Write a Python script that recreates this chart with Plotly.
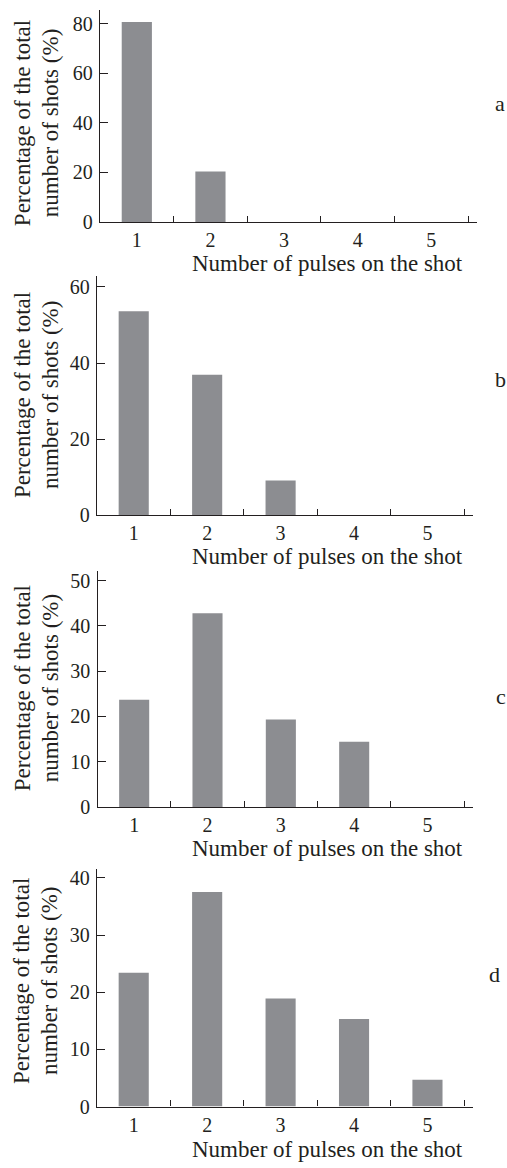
import plotly.graph_objects as go

# ---------------- data ----------------
pulses = ["1", "2", "3", "4", "5"]
pct_a = [80.6, 20.4, 0, 0, 0]
pct_b = [53.6, 36.9, 9.1, 0, 0]
pct_c = [23.7, 42.8, 19.3, 14.4, 0]
pct_d = [23.4, 37.5, 18.9, 15.3, 4.7]
panel_letters = ["a", "b", "c", "d"]
yticks_a = [0, 20, 40, 60, 80]
yticks_b = [0, 20, 40, 60]
yticks_c = [0, 10, 20, 30, 40, 50]
yticks_d = [0, 10, 20, 30, 40]
ymax = [85.5, 62.9, 52.2, 41.5]
xtitle = "Number of pulses on the shot"
ytitle1 = "Percentage of the total"
ytitle2 = "number of shots (%)"

series = [pct_a, pct_b, pct_c, pct_d]
yticks = [yticks_a, yticks_b, yticks_c, yticks_d]

# ---------------- layout (pixels) ----------------
W, H = 507, 1168
# top, bottom(y=0), left, right of each plot area
boxes = [(8, 222.5, 100, 477), (277, 519, 97, 473), (575, 814, 97.5, 473), (877, 1117, 97, 473)]
xtitle_yc = [264.5, 561, 856, 1160.5]
letter_pos = [(500, 103), (500, 382), (501, 702), (494, 983)]
ytitle_yc = [122.5, 397.5, 694, 990]

INK = "#231f20"
BAR = "#8c8d91"
FONT = "Liberation Serif"

def px_x(v):
    return v / W

def px_y(v):
    return 1 - v / H

fig = go.Figure()
annotations = []
for i, vals in enumerate(series):
    top, bot, left, right = boxes[i]
    xa = "xaxis" if i == 0 else f"xaxis{i+1}"
    ya = "yaxis" if i == 0 else f"yaxis{i+1}"
    xr = "x" if i == 0 else f"x{i+1}"
    yr = "y" if i == 0 else f"y{i+1}"
    fig.add_trace(go.Bar(x=pulses, y=vals, xaxis=xr, yaxis=yr,
                         marker=dict(color=BAR, line=dict(width=0)),
                         showlegend=False))
    fig.layout[xa] = dict(
        domain=[px_x(left), px_x(right)], anchor=yr, type="category",
        range=[-0.5, 4.62], tickson="boundaries", ticks="inside", ticklen=6,
        tickwidth=1.2, tickcolor=INK, showline=True, linewidth=1.4, linecolor=INK,
        showgrid=False, zeroline=False, fixedrange=True,
        tickfont=dict(family=FONT, size=20, color=INK),
    )
    fig.layout[ya] = dict(
        domain=[px_y(bot), px_y(top)], anchor=xr, range=[0, ymax[i]],
        tickvals=yticks[i], ticks="inside", ticklen=8, tickwidth=1.2, tickcolor=INK,
        showline=True, linewidth=1.4, linecolor=INK, showgrid=False, zeroline=False,
        tickfont=dict(family=FONT, size=20, color=INK), ticklabelstandoff=2,
    )
    # x title
    annotations.append(dict(text=xtitle, x=px_x(327), y=px_y(xtitle_yc[i]), xref="paper", yref="paper",
                            xanchor="center", yanchor="middle", showarrow=False,
                            font=dict(family=FONT, size=23, color=INK)))
    # y title (two lines)
    annotations.append(dict(text=ytitle1, x=px_x(22), y=px_y(ytitle_yc[i]), xref="paper", yref="paper",
                            xanchor="center", yanchor="middle", showarrow=False, textangle=-90,
                            font=dict(family=FONT, size=23, color=INK)))
    annotations.append(dict(text=ytitle2, x=px_x(50), y=px_y(ytitle_yc[i]), xref="paper", yref="paper",
                            xanchor="center", yanchor="middle", showarrow=False, textangle=-90,
                            font=dict(family=FONT, size=23, color=INK)))
    # panel letter
    lx, ly = letter_pos[i]
    annotations.append(dict(text=panel_letters[i], x=px_x(lx), y=px_y(ly), xref="paper", yref="paper",
                            xanchor="center", yanchor="middle", showarrow=False,
                            font=dict(family=FONT, size=22, color=INK)))

fig.update_layout(
    width=W, height=H, margin=dict(l=0, r=0, t=0, b=0),
    paper_bgcolor="white", plot_bgcolor="white",
    bargap=0.59, annotations=annotations, showlegend=False,
)

fig.write_html("out.html", config={"displayModeBar": False})
